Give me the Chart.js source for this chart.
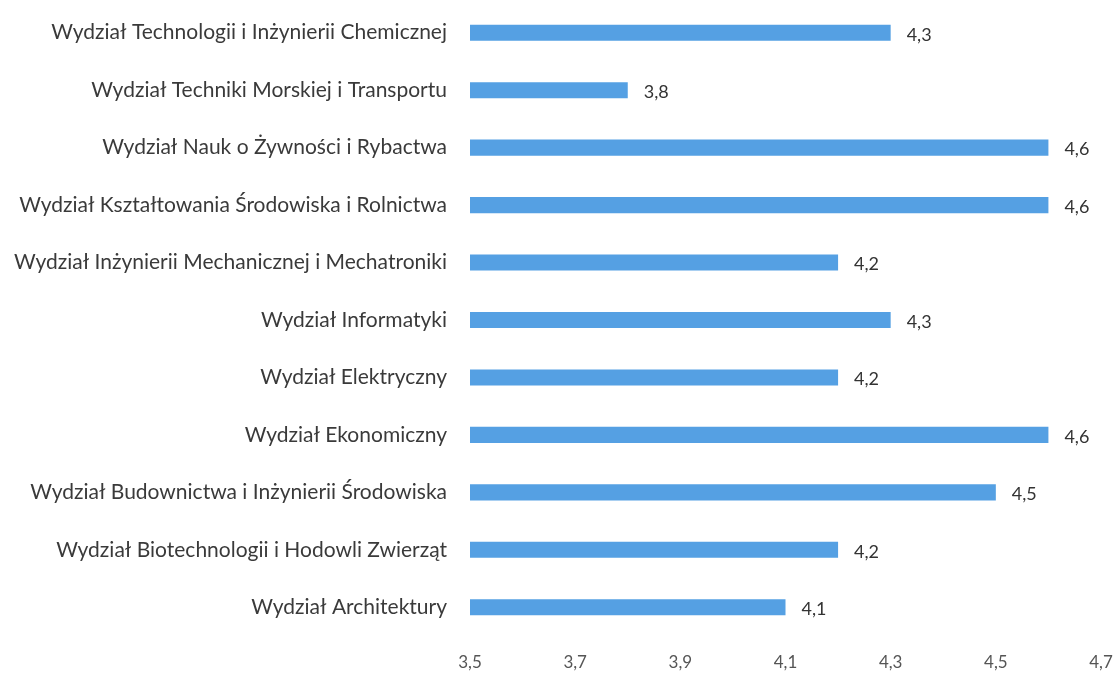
<!DOCTYPE html>
<html lang="pl">
<head>
    <meta charset="UTF-8">
    <title>Wydziały - oceny</title>
    <script src="https://cdn.jsdelivr.net/npm/chart.js"></script>
    <style>
        body { margin: 0; background: #fff; }
        #wrap { width: 1117px; height: 678px; }
    </style>
</head>
<body>
    <div id="wrap">
        <canvas id="chart" width="1117" height="678"></canvas>
    </div>
    <script>
        // Categories, top to bottom as in the picture
        const faculties = [
            'Wydział Technologii i Inżynierii Chemicznej',
            'Wydział Techniki Morskiej i Transportu',
            'Wydział Nauk o Żywności i Rybactwa',
            'Wydział Kształtowania Środowiska i Rolnictwa',
            'Wydział Inżynierii Mechanicznej i Mechatroniki',
            'Wydział Informatyki',
            'Wydział Elektryczny',
            'Wydział Ekonomiczny',
            'Wydział Budownictwa i Inżynierii Środowiska',
            'Wydział Biotechnologii i Hodowli Zwierząt',
            'Wydział Architektury'
        ];
        const scores = [4.3, 3.8, 4.6, 4.6, 4.2, 4.3, 4.2, 4.6, 4.5, 4.2, 4.1];

        const fmt = v => Number(v).toFixed(1).replace('.', ',');

        // Simple value labels at the end of each bar
        const valueLabels = {
            id: 'valueLabels',
            afterDatasetsDraw(chart) {
                const ctx = chart.ctx;
                const meta = chart.getDatasetMeta(0);
                ctx.save();
                ctx.font = '18px Lato';
                ctx.fillStyle = '#333';
                ctx.textAlign = 'left';
                ctx.textBaseline = 'middle';
                meta.data.forEach((bar, i) => {
                    ctx.fillText(fmt(scores[i]), bar.x + 16, bar.y + 2);
                });
                ctx.restore();
            }
        };

        new Chart(document.getElementById('chart'), {
            type: 'bar',
            data: {
                labels: faculties,
                datasets: [{
                    data: scores,
                    backgroundColor: '#55A0E3',
                    borderWidth: 0,
                    barPercentage: 0.56,
                    categoryPercentage: 0.5
                }]
            },
            options: {
                indexAxis: 'y',
                responsive: false,
                animation: false,
                layout: { padding: { top: 4, right: 16, left: 0, bottom: 0 } },
                plugins: {
                    legend: { display: false },
                    tooltip: { enabled: false }
                },
                scales: {
                    x: {
                        min: 3.5,
                        max: 4.7,
                        grid: { display: false, drawTicks: false },
                        border: { display: false },
                        ticks: {
                            stepSize: 0.2,
                            padding: 16,
                            color: '#555',
                            font: { family: 'Lato', size: 17 },
                            callback: v => fmt(v)
                        },
                        afterFit: s => {
                            s.height = 42;
                            s.paddingLeft = 0;
                            s.paddingRight = 0;
                        }
                    },
                    y: {
                        grid: { display: false, drawTicks: false },
                        border: { display: false },
                        ticks: {
                            padding: 23,
                            color: '#3a3a3a',
                            font: { family: 'Lato', size: 21 }
                        },
                        afterFit: s => {
                            s.width = 470;
                            s.paddingTop = 0;
                            s.paddingBottom = 0;
                        }
                    }
                }
            },
            plugins: [valueLabels]
        });
    </script>
</body>
</html>
